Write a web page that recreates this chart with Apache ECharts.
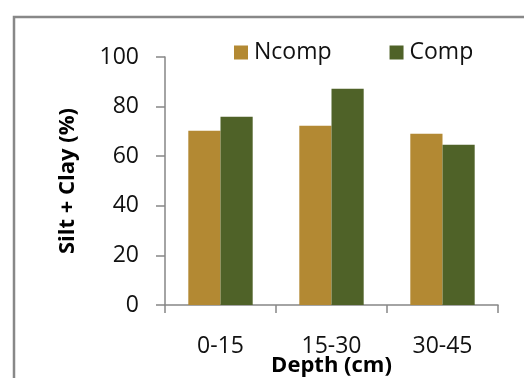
<!DOCTYPE html>
<html>
<head>
<meta charset="utf-8">
<script src="https://cdn.jsdelivr.net/npm/echarts@6/dist/echarts.min.js"></script>
<style>
html,body{margin:0;padding:0;background:#fff;}
#c{width:524px;height:378px;}
</style>
</head>
<body>
<div id="c"></div>
<script>
const categories = ['0-15', '15-30', '30-45'];
const ncomp = [70.3, 72.3, 69.1];
const comp = [75.9, 87.2, 64.6];
const yTicks = [0, 20, 40, 60, 80, 100];

const chart = echarts.init(document.getElementById('c'), null, {renderer: 'canvas'});
const font = 'Open Sans';
chart.setOption({
  animation: false,
  backgroundColor: '#fff',
  graphic: [{
    type: 'rect',
    shape: {x: 14, y: 17, width: 600, height: 450},
    style: {fill: 'none', stroke: '#888888', lineWidth: 2.5},
    z: 0
  }],
  legend: {
    left: 229, top: 36,
    itemWidth: 14, itemHeight: 14, itemGap: 58,
    icon: 'rect',
    textStyle: {fontFamily: font, fontSize: 23, color: '#111', padding: [0, 0, 0, 1]},
    data: ['Ncomp', 'Comp']
  },
  grid: {left: 165, right: 26, top: 57, bottom: 73, containLabel: false, outerBoundsMode: 'none'},
  xAxis: {
    type: 'category',
    data: categories,
    axisLine: {lineStyle: {color: '#868686', width: 1.5}},
    axisTick: {show: true, length: 8, lineStyle: {color: '#868686', width: 1.5}},
    axisLabel: {fontFamily: font, fontSize: 23, color: '#111', margin: 30},
    name: 'Depth (cm)',
    nameLocation: 'middle',
    nameGap: 50,
    nameMoveOverlap: false,
    nameTextStyle: {fontFamily: font, fontSize: 22, fontWeight: 'bold', color: '#000'}
  },
  yAxis: {
    type: 'value',
    min: 0, max: 100, interval: 20,
    splitLine: {show: false},
    axisLine: {show: true, lineStyle: {color: '#868686', width: 1.5}},
    axisTick: {show: true, length: 9, lineStyle: {color: '#868686', width: 1.5}},
    axisLabel: {fontFamily: font, fontSize: 23, color: '#111', margin: 26,
      formatter: v => yTicks.includes(v) ? String(v) : ''},
    name: 'Silt + Clay (%)',
    nameLocation: 'middle',
    nameGap: 86,
    nameMoveOverlap: false,
    nameRotate: 90,
    nameTextStyle: {fontFamily: font, fontSize: 22, fontWeight: 'bold', color: '#000'}
  },
  series: [
    {name: 'Ncomp', type: 'bar', data: ncomp, barGap: '0%', barCategoryGap: '42%',
     itemStyle: {color: '#B38933'}},
    {name: 'Comp', type: 'bar', data: comp, barGap: '0%', barCategoryGap: '42%',
     itemStyle: {color: '#4F6228'}}
  ]
});
</script>
</body>
</html>
